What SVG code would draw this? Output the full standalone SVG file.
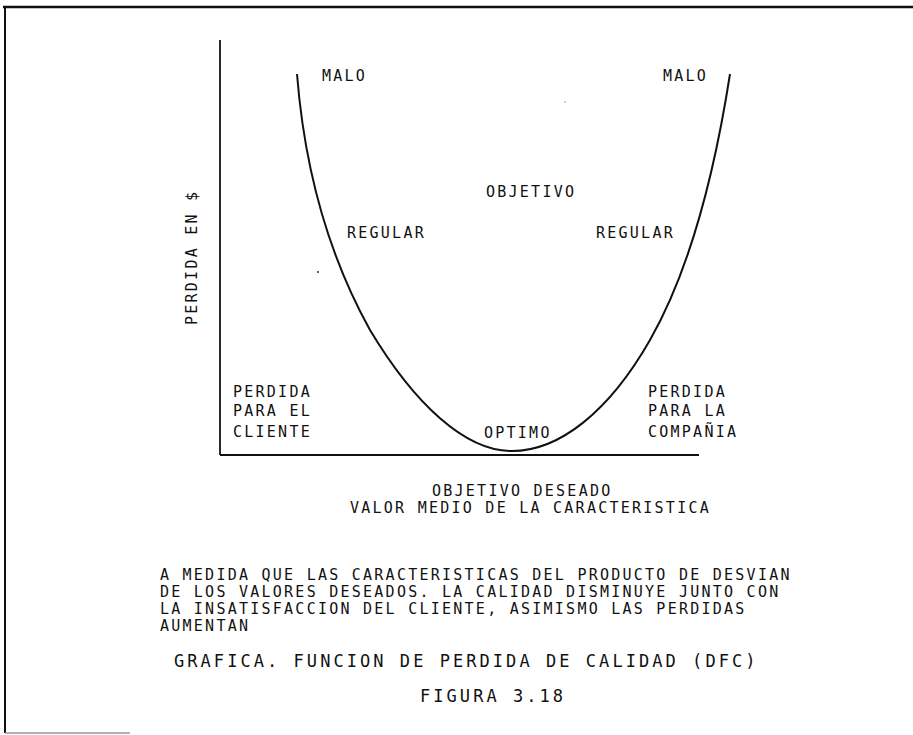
<svg xmlns="http://www.w3.org/2000/svg" width="913" height="735" viewBox="0 0 913 735">
<style>
.t{font-family:"DejaVu Sans Mono","Liberation Mono",monospace;font-size:15px;fill:#111;letter-spacing:2.25px}
.ti{font-family:"DejaVu Sans Mono","Liberation Mono",monospace;font-size:17px;fill:#111;letter-spacing:3.05px}
.ax{stroke:#111;fill:none;stroke-width:1.8}
.cv{stroke:#111;fill:none;stroke-width:2}
</style>
<rect width="913" height="735" fill="#fff"/>
<g id="frame">
<line x1="3" y1="7" x2="913" y2="7" stroke="#111" stroke-width="2.6"/>
<line x1="5" y1="6" x2="5" y2="733" stroke="#111" stroke-width="2"/>
<line x1="5" y1="733" x2="130" y2="733" stroke="#999" stroke-width="1.5"/>
</g>
<g id="connectors">
<line class="ax" x1="220" y1="40" x2="220" y2="455"/>
<line class="ax" x1="220" y1="455" x2="699" y2="455"/>
<path id="curve" class="cv" d="M297,74 C303,150 320,240 370,330 C415,405 465,450 510,451 C560,452 610,410 650,340 C690,270 715,170 730,74"/>
</g>
<g id="specks" fill="#333">
<circle cx="318" cy="272" r="1"/>
<circle cx="565" cy="102" r="0.6"/>
</g>
<g id="labels">
<text class="t" x="322" y="81">MALO</text>
<text class="t" x="663" y="81">MALO</text>
<text class="t" x="486" y="197">OBJETIVO</text>
<text class="t" x="347" y="238">REGULAR</text>
<text class="t" x="596" y="238">REGULAR</text>
<text class="t" transform="translate(197,325) rotate(-90)">PERDIDA EN $</text>
<text class="t" x="233" y="397">PERDIDA</text>
<text class="t" x="233" y="416">PARA EL</text>
<text class="t" x="233" y="437">CLIENTE</text>
<text class="t" x="484" y="438">OPTIMO</text>
<text class="t" x="648" y="397">PERDIDA</text>
<text class="t" x="648" y="416">PARA LA</text>
<text class="t" x="648" y="437">COMPAÑIA</text>
<text class="t" x="432" y="496">OBJETIVO DESEADO</text>
<text class="t" x="350" y="513">VALOR MEDIO DE LA CARACTERISTICA</text>
</g>
<g id="caption">
<text class="t" x="160" y="580">A MEDIDA QUE LAS CARACTERISTICAS DEL PRODUCTO DE DESVIAN</text>
<text class="t" x="160" y="597">DE LOS VALORES DESEADOS. LA CALIDAD DISMINUYE JUNTO CON</text>
<text class="t" x="160" y="614">LA INSATISFACCION DEL CLIENTE, ASIMISMO LAS PERDIDAS</text>
<text class="t" x="160" y="631">AUMENTAN</text>
<text class="ti" x="174" y="667">GRAFICA. FUNCION DE PERDIDA DE CALIDAD (DFC)</text>
<text class="ti" x="420" y="702">FIGURA 3.18</text>
</g>
</svg>
